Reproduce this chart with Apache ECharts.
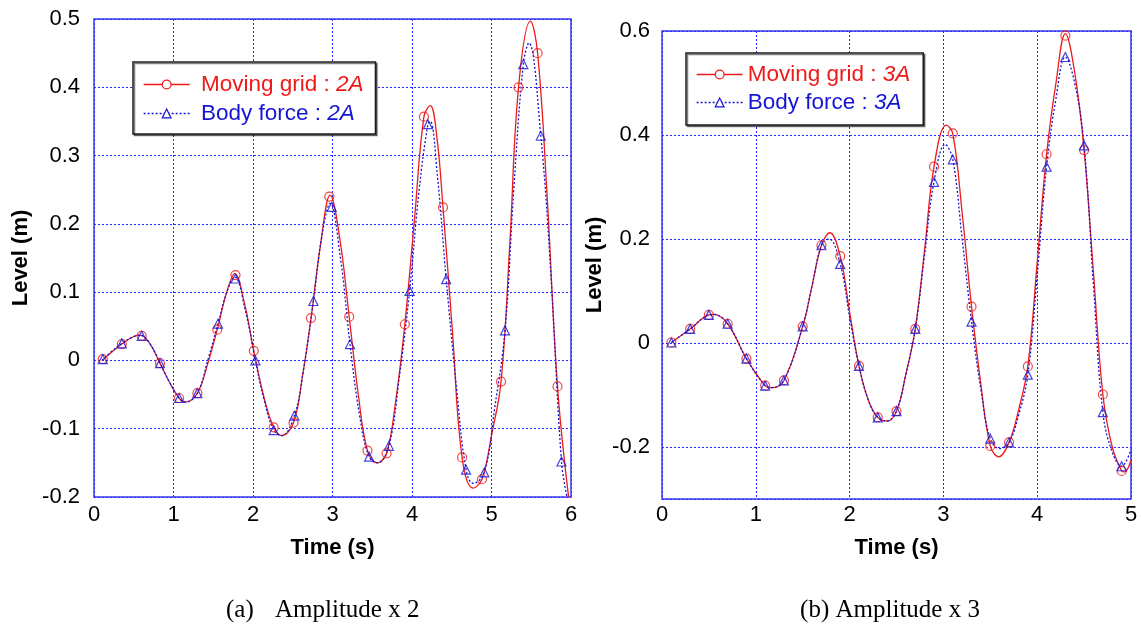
<!DOCTYPE html>
<html>
<head>
<meta charset="utf-8">
<script src="https://cdn.jsdelivr.net/npm/echarts@6/dist/echarts.min.js"></script>
<style>
  html, body { margin: 0; padding: 0; background: #fff; }
  #chart { width: 1142px; height: 632px; }
</style>
</head>
<body>
<div id="chart"></div>
<script>
// (a) amplitude x 2 : curves as [time, level]
const gridCurveA = [
  [0.10, 0.000], [0.22, 0.012], [0.35, 0.024], [0.50, 0.035], [0.58, 0.037], [0.70, 0.025],
  [0.83, -0.004], [0.95, -0.032], [1.07, -0.055], [1.15, -0.061], [1.30, -0.048], [1.43, -0.005],
  [1.55, 0.045], [1.67, 0.100], [1.77, 0.127], [1.89, 0.085], [2.01, 0.014], [2.14, -0.055],
  [2.26, -0.098], [2.36, -0.110], [2.51, -0.091], [2.62, -0.025], [2.73, 0.062], [2.85, 0.170],
  [2.97, 0.242], [3.09, 0.180], [3.21, 0.064], [3.33, -0.055], [3.44, -0.132], [3.56, -0.150],
  [3.68, -0.136], [3.80, -0.055], [3.91, 0.053], [4.03, 0.205], [4.15, 0.357], [4.23, 0.373],
  [4.31, 0.330], [4.39, 0.224], [4.51, 0.040], [4.63, -0.142], [4.77, -0.187], [4.88, -0.174],
  [5.00, -0.110], [5.12, -0.031], [5.23, 0.170], [5.34, 0.400], [5.49, 0.497], [5.58, 0.450],
  [5.70, 0.240], [5.83, -0.038], [5.97, -0.200]
];
const bodyCurveA = [
  [0.10, 0.000], [0.22, 0.013], [0.35, 0.025], [0.50, 0.035], [0.58, 0.037], [0.70, 0.025],
  [0.83, -0.004], [0.95, -0.032], [1.07, -0.055], [1.15, -0.061], [1.30, -0.048], [1.43, 0.000],
  [1.56, 0.054], [1.67, 0.100], [1.77, 0.122], [1.90, 0.075], [2.03, 0.000], [2.14, -0.058],
  [2.26, -0.102], [2.36, -0.110], [2.52, -0.081], [2.64, -0.010], [2.76, 0.087], [2.87, 0.185],
  [2.97, 0.230], [3.10, 0.150], [3.22, 0.024], [3.34, -0.080], [3.46, -0.141], [3.57, -0.150],
  [3.71, -0.125], [3.84, -0.025], [3.97, 0.102], [4.09, 0.250], [4.20, 0.346], [4.23, 0.350],
  [4.32, 0.270], [4.43, 0.119], [4.56, -0.040], [4.68, -0.160], [4.77, -0.180], [4.91, -0.164],
  [5.04, -0.070], [5.17, 0.044], [5.28, 0.250], [5.40, 0.434], [5.47, 0.465], [5.62, 0.329],
  [5.75, 0.120], [5.88, -0.148], [5.95, -0.200]
];
// (a) markers
const gridMarkTimeA = [0.11, 0.35, 0.60, 0.83, 1.07, 1.30, 1.55, 1.78, 2.01, 2.26, 2.51, 2.73, 2.96,
  3.21, 3.44, 3.68, 3.91, 4.15, 4.39, 4.63, 4.88, 5.12, 5.34, 5.58, 5.83];
const gridMarkLevelA = [0.002, 0.024, 0.036, -0.004, -0.055, -0.048, 0.045, 0.125, 0.014, -0.098, -0.091,
  0.062, 0.240, 0.064, -0.132, -0.136, 0.053, 0.357, 0.224, -0.142, -0.174, -0.031, 0.400, 0.450, -0.038];
const bodyMarkTimeA = [0.11, 0.35, 0.60, 0.83, 1.07, 1.30, 1.56, 1.78, 2.03, 2.26, 2.52, 2.76, 2.99,
  3.22, 3.46, 3.71, 3.97, 4.20, 4.43, 4.68, 4.91, 5.17, 5.40, 5.62, 5.88];
const bodyMarkLevelA = [0.002, 0.025, 0.036, -0.004, -0.055, -0.048, 0.054, 0.120, 0.000, -0.102, -0.081,
  0.087, 0.225, 0.024, -0.141, -0.125, 0.102, 0.346, 0.119, -0.160, -0.164, 0.044, 0.434, 0.329, -0.148];

// (b) amplitude x 3
const gridCurveB = [
  [0.10, 0.001], [0.30, 0.027], [0.50, 0.054], [0.55, 0.055], [0.70, 0.037], [0.90, -0.030],
  [1.10, -0.082], [1.17, -0.086], [1.30, -0.072], [1.50, 0.032], [1.60, 0.110], [1.70, 0.188],
  [1.79, 0.212], [1.90, 0.167], [2.00, 0.060], [2.10, -0.044], [2.20, -0.110], [2.30, -0.143],
  [2.40, -0.150], [2.50, -0.131], [2.60, -0.060], [2.70, 0.027], [2.80, 0.180], [2.90, 0.339],
  [3.03, 0.419], [3.10, 0.403], [3.20, 0.250], [3.30, 0.070], [3.40, -0.080], [3.50, -0.198],
  [3.59, -0.219], [3.70, -0.191], [3.80, -0.130], [3.90, -0.045], [4.00, 0.155], [4.10, 0.363],
  [4.20, 0.500], [4.30, 0.595], [4.40, 0.520], [4.50, 0.371], [4.60, 0.135], [4.70, -0.099],
  [4.80, -0.200], [4.90, -0.246], [4.93, -0.248], [5.00, -0.225]
];
const bodyCurveB = [
  [0.10, 0.001], [0.30, 0.027], [0.50, 0.054], [0.55, 0.055], [0.70, 0.037], [0.90, -0.030],
  [1.10, -0.082], [1.17, -0.086], [1.30, -0.072], [1.50, 0.032], [1.60, 0.110], [1.70, 0.188],
  [1.78, 0.200], [1.90, 0.152], [2.00, 0.050], [2.10, -0.044], [2.20, -0.110], [2.30, -0.143],
  [2.40, -0.150], [2.50, -0.131], [2.60, -0.060], [2.70, 0.027], [2.80, 0.170], [2.90, 0.310],
  [3.02, 0.382], [3.10, 0.353], [3.20, 0.200], [3.30, 0.041], [3.40, -0.090], [3.50, -0.184],
  [3.60, -0.203], [3.70, -0.191], [3.80, -0.140], [3.90, -0.061], [4.00, 0.130], [4.10, 0.339],
  [4.20, 0.470], [4.30, 0.550], [4.40, 0.500], [4.50, 0.380], [4.60, 0.110], [4.70, -0.133],
  [4.80, -0.210], [4.90, -0.237], [5.00, -0.205]
];
const markTimeB = [0.1, 0.3, 0.5, 0.7, 0.9, 1.1, 1.3, 1.5, 1.7, 1.9, 2.1, 2.3, 2.5, 2.7, 2.9,
  3.1, 3.3, 3.5, 3.7, 3.9, 4.1, 4.3, 4.5, 4.7, 4.9];
const gridMarkLevelB = [0.001, 0.027, 0.054, 0.037, -0.030, -0.082, -0.072, 0.032, 0.188, 0.167, -0.044,
  -0.143, -0.131, 0.027, 0.339, 0.403, 0.070, -0.198, -0.191, -0.045, 0.363, 0.591, 0.371, -0.099, -0.246];
const bodyMarkLevelB = [0.001, 0.027, 0.054, 0.037, -0.030, -0.082, -0.072, 0.032, 0.188, 0.152, -0.044,
  -0.143, -0.131, 0.027, 0.310, 0.353, 0.041, -0.184, -0.191, -0.061, 0.339, 0.550, 0.380, -0.133, -0.237];

const SANS = '"Liberation Sans", Arial, sans-serif';
const SERIF = '"Liberation Serif", "Times New Roman", serif';
const RED = '#ee1a1a';
const BLUE = '#1515d5';
const FRAME = '#3a3af2';
const GRIDLINE = '#2a2aff';

const pair = (ts, vs) => ts.map((t, i) => [t, vs[i]]);

function xAxisOf(gi, max, margin, gap) {
  return {
    gridIndex: gi, type: 'value', min: 0, max: max, interval: 1,
    name: 'Time (s)', nameLocation: 'middle', nameGap: gap,
    nameTextStyle: { fontFamily: SANS, fontSize: 22, fontWeight: 'bold', color: '#000' },
    axisLine: { show: false }, axisTick: { show: false },
    axisLabel: { fontFamily: SANS, fontSize: 22, color: '#000', margin: margin },
    splitLine: { show: true, lineStyle: { color: GRIDLINE, type: [2, 2], width: 1 } }
  };
}

function yAxisOf(gi, min, max, interval, margin, gap, hideMin) {
  const ax = {
    gridIndex: gi, type: 'value', min: min, max: max,
    name: 'Level (m)', nameLocation: 'middle', nameGap: gap,
    nameTextStyle: { fontFamily: SANS, fontSize: 22, fontWeight: 'bold', color: '#000' },
    axisLine: { show: false }, axisTick: { show: false },
    axisLabel: { fontFamily: SANS, fontSize: 22, color: '#000', margin: margin, showMinLabel: !hideMin },
    splitLine: { show: true, lineStyle: { color: GRIDLINE, type: [2, 2], width: 1 } }
  };
  if (interval) ax.interval = interval;
  return ax;
}

function curve(name, gi, data, color, dashed, symbol) {
  return {
    type: 'line', name: name, xAxisIndex: gi, yAxisIndex: gi, data: data,
    smooth: 0.4, showSymbol: false, symbol: symbol, symbolSize: 8,
    itemStyle: { color: '#fff', borderColor: color, borderWidth: 1.2 },
    lineStyle: { color: color, width: 1.3, type: dashed ? [2, 2] : 'solid' },
    z: 2, silent: true
  };
}

function marks(gi, data, color, symbol) {
  return {
    type: 'scatter', xAxisIndex: gi, yAxisIndex: gi, data: data,
    symbol: symbol, symbolSize: 9,
    itemStyle: { color: 'rgba(255,255,255,0)', borderColor: color, borderWidth: 1.2 },
    z: 3, silent: true
  };
}

function legendEntry(label, amp, color) {
  const base = { fontFamily: SANS, fontSize: 22.5, lineHeight: 22, color: color };
  return {
    name: label + ' : ' + amp,
    textStyle: Object.assign({}, base, {
      rich: { n: Object.assign({}, base), i: Object.assign({}, base, { fontStyle: 'italic' }) }
    })
  };
}

function legendOf(left, top, padding, gap, lead, names) {
  return {
    left: left, top: top, orient: 'vertical', padding: padding, itemGap: gap,
    itemWidth: 46, itemHeight: 11, selectedMode: false,
    backgroundColor: '#fff', borderColor: '#1c1c1c', borderWidth: 1.5,
    shadowColor: 'rgba(0,0,0,0.5)', shadowOffsetX: 1.5, shadowOffsetY: 1.5, shadowBlur: 0,
    itemStyle: { borderWidth: 1.2 }, lineStyle: { width: 1.3 },
    formatter: function (name) {
      const p = name.split(' : ');
      return '{n|' + lead + p[0] + ' : }{i|' + p[1] + '}';
    },
    data: names
  };
}

const chart = echarts.init(document.getElementById('chart'));
chart.setOption({
  animation: false,
  backgroundColor: '#fff',
  grid: [
    { left: 94, top: 19, width: 477, height: 478, show: true, borderColor: FRAME, borderWidth: 1.5, backgroundColor: 'transparent' },
    { left: 662, top: 31, width: 469, height: 468, show: true, borderColor: FRAME, borderWidth: 1.5, backgroundColor: 'transparent' }
  ],
  xAxis: [xAxisOf(0, 6, 7, 40), xAxisOf(1, 5, 5, 38)],
  yAxis: [yAxisOf(0, -0.2, 0.5, 0.1, 14, 62, false), yAxisOf(1, -0.3, 0.6, null, 12, 56, true)],
  legend: [
    legendOf(133, 62, [11, 12, 9, 10], 6, ' ', [
      legendEntry('Moving grid', '2A', RED), legendEntry('Body force', '2A', BLUE)
    ]),
    legendOf(686, 53, [10, 13, 11, 10], 5, '', [
      legendEntry('Moving grid', '3A', RED), legendEntry('Body force', '3A', BLUE)
    ])
  ],
  series: [
    curve('Moving grid : 2A', 0, gridCurveA, RED, false, 'circle'),
    curve('Body force : 2A', 0, bodyCurveA, BLUE, true, 'triangle'),
    marks(0, pair(gridMarkTimeA, gridMarkLevelA), RED, 'circle'),
    marks(0, pair(bodyMarkTimeA, bodyMarkLevelA), BLUE, 'triangle'),
    curve('Moving grid : 3A', 1, gridCurveB, RED, false, 'circle'),
    curve('Body force : 3A', 1, bodyCurveB, BLUE, true, 'triangle'),
    marks(1, pair(markTimeB, gridMarkLevelB), RED, 'circle'),
    marks(1, pair(markTimeB, bodyMarkLevelB), BLUE, 'triangle')
  ],
  graphic: [
    { type: 'text', x: 226, y: 610, style: { text: '(a)', fontFamily: SERIF, fontSize: 25, fill: '#000', verticalAlign: 'middle' } },
    { type: 'text', x: 275, y: 610, style: { text: 'Amplitude x 2', fontFamily: SERIF, fontSize: 25, fill: '#000', verticalAlign: 'middle' } },
    { type: 'text', x: 890, y: 610, style: { text: '(b) Amplitude x 3', fontFamily: SERIF, fontSize: 25, fill: '#000', align: 'center', verticalAlign: 'middle' } }
  ]
});
</script>
</body>
</html>
